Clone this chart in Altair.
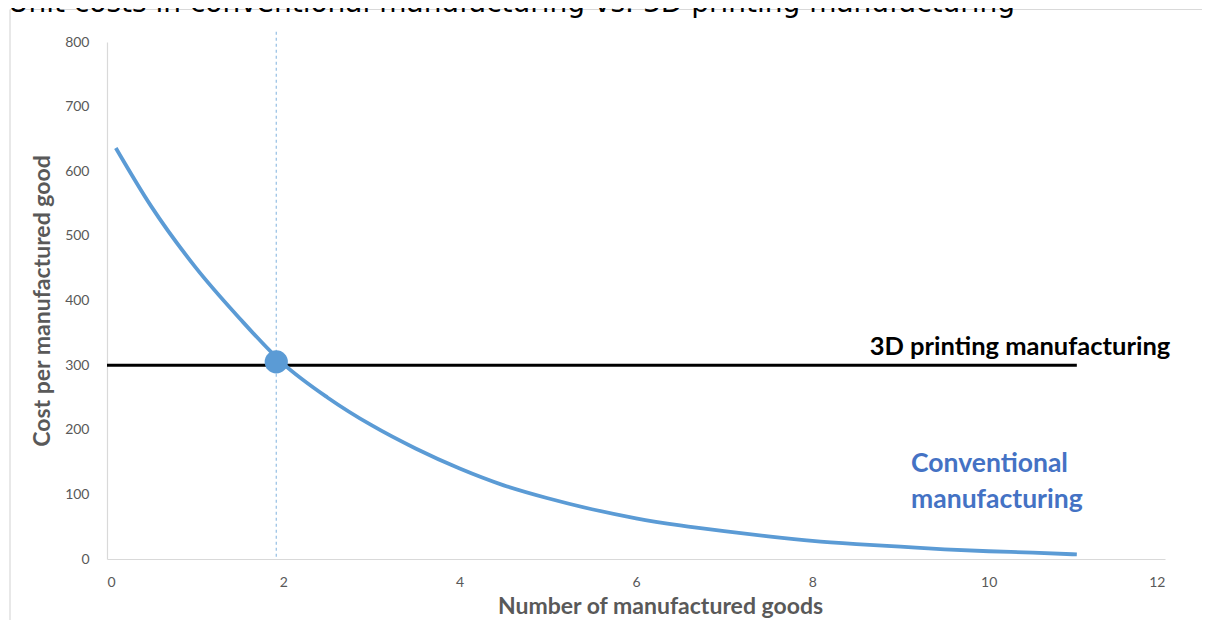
import altair as alt
import pandas as pd

# ---- data ----
x_conv = [0.1, 0.5, 1.0, 1.5, 2.0, 2.5, 3.0, 3.5, 4.0, 4.5, 5.0, 5.5, 6.0,
          6.5, 7.0, 7.5, 8.0, 8.5, 9.0, 9.5, 10.0, 10.5, 11.0]
y_conv = [636, 546, 452, 373, 302, 250, 207, 171, 140, 114, 94, 77, 63,
          52, 43, 35, 28, 23, 19, 15, 12, 10, 7]

x_3d = [0, 11]
y_3d = [300, 300]

x_cross = [1.92]
y_cross = [305]

vline_x = [1.92]
vline_top = [816]
vline_bottom = [0]

x_ticks = [0, 2, 4, 6, 8, 10, 12]
y_ticks = [0, 100, 200, 300, 400, 500, 600, 700, 800]

title_text = "Unit costs in conventional manufacturing vs. 3D printing manufacturing"
label_3d = "3D printing manufacturing"
label_conv = ["Conventional", "manufacturing"]

# ---- tables ----
conv = pd.DataFrame({"x": x_conv, "y": y_conv})
d3 = pd.DataFrame({"x": x_3d, "y": y_3d})
cross = pd.DataFrame({"x": x_cross, "y": y_cross})
vline = pd.DataFrame({"x": vline_x, "y": vline_top, "y2": vline_bottom})
lab3d = pd.DataFrame({"x": [12.06], "y": [316], "t": [label_3d]})
labconv = pd.DataFrame({"x": [9.12, 9.12], "y": [135, 79], "t": label_conv})
ttl = pd.DataFrame({"t": [title_text]})

GRAY = "#595959"
FONT = "Lato"

xenc = alt.X("x:Q", scale=alt.Scale(domain=[0, 12], nice=False),
             axis=alt.Axis(values=x_ticks, format="d",
                           title="Number of manufactured goods",
                           labelPadding=16, titleX=553, titleY=54,
                           titleBaseline="alphabetic", titleAlign="center"))
yenc = alt.Y("y:Q", scale=alt.Scale(domain=[0, 800], nice=False),
             axis=alt.Axis(values=y_ticks, format="d",
                           title="Cost per manufactured good",
                           labelPadding=18, titleX=-65, titleY=258.5,
                           titleAngle=270, titleBaseline="middle",
                           titleAlign="center"))

curve = alt.Chart(conv).mark_line(color="#5B9BD5", strokeWidth=3.8,
                                  interpolate="monotone").encode(x=xenc, y=yenc)

flat = alt.Chart(d3).mark_line(color="#000000", strokeWidth=3).encode(
    x="x:Q", y="y:Q")

dash = alt.Chart(vline).mark_rule(color="#9DC3E6", strokeWidth=1.3,
                                  strokeDash=[3, 3], clip=False).encode(
    x="x:Q", y="y:Q", y2="y2:Q")

dot = alt.Chart(cross).mark_point(filled=True, color="#5B9BD5", opacity=1,
                                  size=540).encode(x="x:Q", y="y:Q")

t3d = alt.Chart(lab3d).mark_text(align="right", baseline="alphabetic",
                                 font=FONT, fontSize=25.5, fontWeight="bold",
                                 color="#000000").encode(
    x="x:Q", y="y:Q", text="t:N")

tconv = alt.Chart(labconv).mark_text(align="left", baseline="alphabetic",
                                     font=FONT, fontSize=26.5, fontWeight="bold",
                                     color="#4472C4").encode(
    x="x:Q", y="y:Q", text="t:N")

border_top = alt.Chart(ttl).mark_rule(color="#D9D9D9", strokeWidth=1.2).encode(
    x=alt.value(-97), x2=alt.value(1110), y=alt.value(-32.5))
border_left = alt.Chart(ttl).mark_rule(color="#D9D9D9", strokeWidth=1.2).encode(
    x=alt.value(-97), y=alt.value(-32.5), y2=alt.value(600))

title = alt.Chart(ttl).mark_text(align="left", baseline="alphabetic",
                                 font="DejaVu Sans", fontSize=28,
                                 color="#000000").encode(
    x=alt.value(-99), y=alt.value(-30), text="t:N")

chart = alt.layer(border_top, border_left, title, dash, flat, curve, dot,
                  t3d, tconv).properties(
    width=1058, height=517,
    background="white",
    autosize=alt.AutoSizeParams(type="none"),
    padding={"left": 99, "top": 34, "right": 37, "bottom": 61},
).configure_view(stroke=None).configure_axis(
    domainColor="#D9D9D9", domainWidth=1.2, ticks=False, tickSize=0, grid=False,
    labelColor=GRAY, labelFont=FONT, labelFontSize=14,
    titleColor=GRAY, titleFont=FONT, titleFontSize=23, titleFontWeight="bold",
)

chart.save("out.html", embed_options={"renderer": "svg", "actions": False})
